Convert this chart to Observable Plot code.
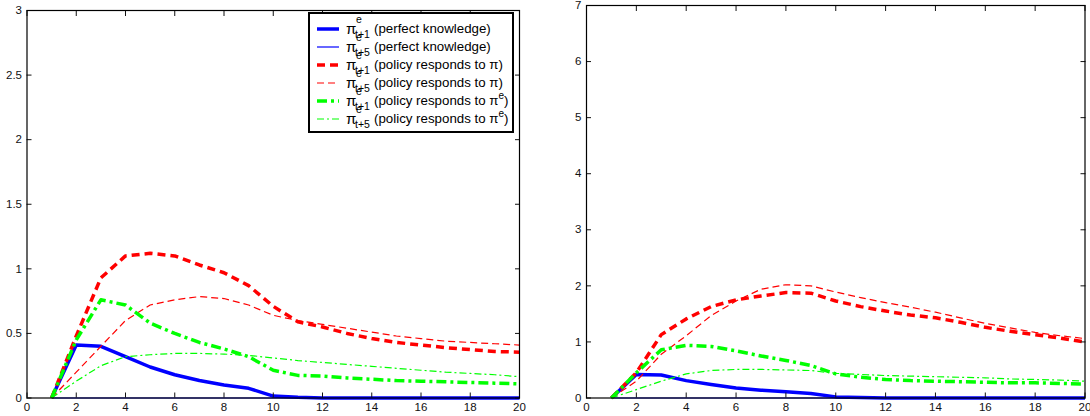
<!DOCTYPE html>
<html><head><meta charset="utf-8">
<script src="https://cdn.jsdelivr.net/npm/d3@7"></script>
<script src="https://cdn.jsdelivr.net/npm/@observablehq/plot@0.6"></script>
<style>
body{margin:0;background:#fff;font-family:"Liberation Sans",Arial,sans-serif;}
#wrap{position:relative;width:1090px;height:416px;overflow:hidden;}
#left,#right{position:absolute;top:0;}
#left{left:0px}
#right{left:545px}
#legend{position:absolute;left:308px;top:12px;width:202px;height:117px;border:2px solid #000;background:#fff;font-size:13.3px;color:#000;}
.row{position:absolute;left:0;height:18px;width:200px;}
.row svg{position:absolute;left:6px;top:0;}
.pi{position:absolute;left:36px;top:0px;font-size:15px;}
.sup{position:absolute;left:46px;top:-7px;font-size:10.5px;}
.sub{position:absolute;left:45px;top:8px;font-size:10.5px;}
.txt{position:absolute;left:64px;top:1px;white-space:nowrap;}
.txt sup{font-size:10px;vertical-align:6px;line-height:0;}
</style></head><body>
<div id="wrap"><div id="left"></div><div id="right"></div><div id="legend"></div></div>
<script>
// ---------- data ----------
const periods = d3.range(1, 21);
const xTicks = [0, 2, 4, 6, 8, 10, 12, 14, 16, 18, 20];
const leftYTicks = [0, 0.5, 1, 1.5, 2, 2.5, 3];
const rightYTicks = [0, 1, 2, 3, 4, 5, 6, 7];

const seriesNames = [
  "t+1 perfect knowledge", "t+5 perfect knowledge",
  "t+1 policy responds to pi", "t+5 policy responds to pi",
  "t+1 policy responds to pi^e", "t+5 policy responds to pi^e"
];
const legendSubs = ["t+1", "t+5", "t+1", "t+5", "t+1", "t+5"];
const legendTexts = [
  "(perfect knowledge)", "(perfect knowledge)",
  "(policy responds to π)", "(policy responds to π)",
  "(policy responds to π<sup>e</sup>)", "(policy responds to π<sup>e</sup>)"
];

// left panel
const leftPerfect1 = [0, 0.41, 0.40, 0.32, 0.24, 0.18, 0.135, 0.10, 0.075, 0.015, 0.005, 0, 0, 0, 0, 0, 0, 0, 0, 0];
const leftPerfect5 = [0, 0, 0, 0, 0, 0, 0, 0, 0, 0, 0, 0, 0, 0, 0, 0, 0, 0, 0, 0];
const leftPi1 = [0, 0.48, 0.93, 1.10, 1.12, 1.10, 1.03, 0.97, 0.87, 0.71, 0.59, 0.55, 0.50, 0.46, 0.43, 0.41, 0.39, 0.375, 0.36, 0.355];
const leftPi5 = [0, 0.20, 0.40, 0.60, 0.72, 0.76, 0.785, 0.77, 0.72, 0.64, 0.60, 0.57, 0.54, 0.51, 0.48, 0.46, 0.44, 0.43, 0.42, 0.41];
const leftPiE1 = [0, 0.45, 0.76, 0.72, 0.58, 0.50, 0.43, 0.38, 0.32, 0.215, 0.175, 0.17, 0.155, 0.145, 0.135, 0.13, 0.125, 0.12, 0.115, 0.11];
const leftPiE5 = [0, 0.13, 0.25, 0.32, 0.335, 0.345, 0.345, 0.34, 0.33, 0.31, 0.29, 0.275, 0.26, 0.245, 0.23, 0.215, 0.20, 0.19, 0.18, 0.165];

// right panel
const rightPerfect1 = [0, 0.42, 0.41, 0.31, 0.24, 0.18, 0.14, 0.11, 0.08, 0.02, 0.01, 0, 0, 0, 0, 0, 0, 0, 0, 0];
const rightPerfect5 = [0, 0, 0, 0, 0, 0, 0, 0, 0, 0, 0, 0, 0, 0, 0, 0, 0, 0, 0, 0];
const rightPi1 = [0, 0.45, 1.13, 1.41, 1.63, 1.75, 1.82, 1.88, 1.87, 1.73, 1.63, 1.55, 1.48, 1.43, 1.35, 1.26, 1.19, 1.13, 1.07, 1.0];
const rightPi5 = [0, 0.30, 0.78, 1.11, 1.47, 1.73, 1.94, 2.02, 2.0, 1.89, 1.79, 1.70, 1.62, 1.53, 1.43, 1.33, 1.25, 1.17, 1.11, 1.06];
const rightPiE1 = [0, 0.45, 0.86, 0.94, 0.92, 0.84, 0.75, 0.67, 0.58, 0.43, 0.37, 0.33, 0.31, 0.30, 0.29, 0.28, 0.27, 0.27, 0.26, 0.25];
const rightPiE5 = [0, 0.15, 0.30, 0.43, 0.49, 0.51, 0.51, 0.50, 0.49, 0.44, 0.42, 0.40, 0.39, 0.38, 0.37, 0.36, 0.34, 0.33, 0.32, 0.30];

// ---------- styles ----------
const styles = [
  {stroke: "#0000ff", strokeWidth: 3.5, dash: null},
  {stroke: "#0000ff", strokeWidth: 1.2, dash: null},
  {stroke: "#ff0000", strokeWidth: 3.5, dash: "8,5"},
  {stroke: "#ff0000", strokeWidth: 1.2, dash: "7,4"},
  {stroke: "#00ff00", strokeWidth: 3.5, dash: "10,4,3,4"},
  {stroke: "#00ff00", strokeWidth: 1.2, dash: "7,3,2,3"}
];

function rows(valuesList) {
  return valuesList.map((vals, i) => periods.map((p, j) => ({x: p, y: vals[j], s: seriesNames[i]})));
}

function panel(el, valuesList, yMax, yTicks, m) {
  const data = rows(valuesList);
  const fmt = d => String(d);
  const lines = data.map((d, i) => Plot.line(d, {
    x: "x", y: "y", stroke: styles[i].stroke, strokeWidth: styles[i].strokeWidth,
    strokeDasharray: styles[i].dash, strokeLinejoin: "round", strokeLinecap: "butt"
  }));
  const chart = Plot.plot({
    width: 545, height: 416,
    marginLeft: m.left, marginRight: m.right, marginTop: m.top, marginBottom: m.bottom,
    x: {domain: [0, 20]},
    y: {domain: [0, yMax]},
    style: {fontFamily: "'Liberation Sans', Arial, sans-serif", fontSize: "11.5px", color: "#111", background: "white", overflow: "visible"},
    marks: [
      ...lines,
      Plot.axisX(xTicks, {anchor: "bottom", tickSize: 0, tickPadding: 5, label: null, tickFormat: fmt}),
      Plot.axisX(xTicks, {anchor: "bottom", tickSize: -5, text: null, label: null}),
      Plot.axisX(xTicks, {anchor: "top", tickSize: -5, text: null, label: null}),
      Plot.axisY(yTicks, {anchor: "left", tickSize: 0, tickPadding: 5, label: null, tickFormat: fmt}),
      Plot.axisY(yTicks, {anchor: "left", tickSize: -5, text: null, label: null}),
      Plot.axisY(yTicks, {anchor: "right", tickSize: -5, text: null, label: null}),
      Plot.frame({stroke: "#000", strokeWidth: 1.2})
    ]
  });
  document.getElementById(el).appendChild(chart);
}

panel("left", [leftPerfect1, leftPerfect5, leftPi1, leftPi5, leftPiE1, leftPiE5], 3, leftYTicks,
  {left: 26.5, right: 26, top: 10, bottom: 18.5});
panel("right", [rightPerfect1, rightPerfect5, rightPi1, rightPi5, rightPiE1, rightPiE5], 7, rightYTicks,
  {left: 41, right: 5.5, top: 5, bottom: 18.5});

// ---------- legend ----------
const leg = document.getElementById("legend");
styles.forEach((st, i) => {
  const row = document.createElement("div");
  row.className = "row";
  row.style.top = (6 + 18 * i) + "px";
  const dash = st.dash ? `stroke-dasharray="${st.dash}"` : "";
  row.innerHTML =
    `<svg width="24" height="18"><line x1="1" x2="23" y1="9" y2="9" stroke="${st.stroke}" stroke-width="${st.strokeWidth}" ${dash}/></svg>` +
    `<span class="pi">π</span><span class="sup">e</span><span class="sub">${legendSubs[i]}</span>` +
    `<span class="txt">${legendTexts[i]}</span>`;
  leg.appendChild(row);
});
</script>
</body></html>
